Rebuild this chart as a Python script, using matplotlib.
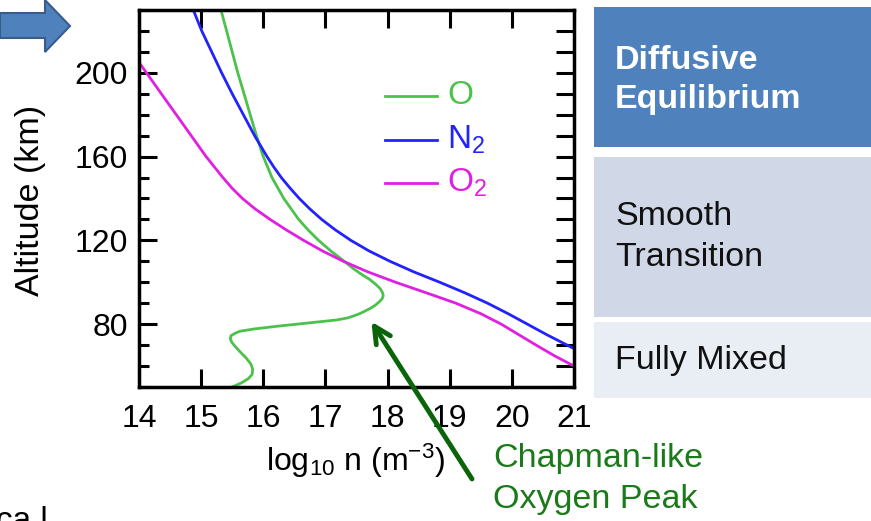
import matplotlib
matplotlib.use("Agg")
import matplotlib.pyplot as plt
from matplotlib.patches import Rectangle, Polygon
from matplotlib.ticker import MultipleLocator

plt.rcParams['font.family'] = ['Liberation Sans', 'DejaVu Sans']
plt.rcParams['mathtext.fontset'] = 'custom'
plt.rcParams['mathtext.rm'] = 'Liberation Sans'
plt.rcParams['mathtext.it'] = 'Liberation Sans:italic'
plt.rcParams['mathtext.bf'] = 'Liberation Sans:bold'

# ---- data (altitude in km, log10 number density in m^-3) ----
o_alt = [50, 52, 54, 56, 58.5, 61, 64, 67, 70, 71.5, 73, 74.5, 75.7, 76.6, 77.7, 79, 80.5,
         82, 83, 84, 85, 86, 87.5, 89, 90.5, 92, 93.5, 95, 97, 99, 101.4, 104, 106.5, 109.4,
         115, 120, 125, 130, 140, 150, 160, 170, 180, 190, 200, 210, 220, 231]
o_val = [15.5, 15.65, 15.76, 15.82, 15.83, 15.8, 15.72, 15.62, 15.53, 15.49, 15.47, 15.48,
         15.55, 15.62, 15.85, 16.22, 16.7, 17.18, 17.36, 17.46, 17.55, 17.62, 17.72, 17.8,
         17.86, 17.91, 17.93, 17.92, 17.88, 17.81, 17.71, 17.57, 17.45, 17.33, 17.085, 16.89,
         16.72, 16.57, 16.33, 16.14, 16.0, 15.89, 15.79, 15.69, 15.59, 15.50, 15.41, 15.31]

n2_alt = [68, 70, 75, 80, 85, 90, 95, 100, 105, 110, 115, 120, 125, 130, 135, 140, 145, 150,
          155, 160, 170, 180, 190, 200, 210, 220, 231]
n2_val = [21.02, 20.89, 20.56, 20.25, 19.94, 19.61, 19.24, 18.84, 18.42, 18.04, 17.70, 17.41,
          17.16, 16.94, 16.75, 16.58, 16.43, 16.29, 16.17, 16.06, 15.86, 15.68, 15.50, 15.33,
          15.17, 15.01, 14.86]

o2_alt = [59.5, 60, 65, 70, 75, 80, 85, 90, 95, 100, 105, 110, 115, 120, 125, 130, 135, 140,
          145, 150, 160, 170, 180, 190, 200, 205]
o2_val = [21.03, 21.0, 20.68, 20.39, 20.11, 19.83, 19.50, 19.10, 18.62, 18.13, 17.68, 17.29,
          16.95, 16.65, 16.37, 16.11, 15.87, 15.665, 15.495, 15.35, 15.08, 14.84, 14.60,
          14.36, 14.12, 14.0]

species = ['O', 'N$_2$', 'O$_2$']
colors = ['#4cc24c', '#2222ff', '#e020e0']

x_ticks = [14, 15, 16, 17, 18, 19, 20, 21]
y_ticks = [80, 120, 160, 200]

boxes = ['Diffusive\nEquilibrium', 'Smooth\nTransition', 'Fully Mixed']

W, H = 871, 521
fig = plt.figure(figsize=(W / 100, H / 100), dpi=100)

def fx(px):
    return px / W

def fy(py):
    return 1 - py / H

ax = fig.add_axes([fx(139), fy(387), fx(574) - fx(139), fy(10) - fy(387)])
ax.plot(o_val, o_alt, color=colors[0], lw=2)
ax.plot(n2_val, n2_alt, color=colors[1], lw=2)
ax.plot(o2_val, o2_alt, color=colors[2], lw=2)
ax.set_xlim(14, 21)
ax.set_ylim(50, 230)
ax.set_xticks(x_ticks)
ax.set_yticks(y_ticks)
ax.yaxis.set_minor_locator(MultipleLocator(10))
for s in ax.spines.values():
    s.set_linewidth(2.5)
ax.tick_params(axis='both', which='major', direction='in', length=13, width=2.2,
               labelsize=23, top=True, right=True, pad=8)
ax.tick_params(axis='x', which='major', pad=12)
ax.tick_params(axis='y', which='minor', direction='in', length=7.5, width=2.2, right=True)
for t in ax.yaxis.get_minor_ticks():
    t.tick2line.set_markersize(13)
for t in ax.yaxis.get_major_ticks():
    t.tick2line.set_markersize(13)

fig.text(fx(31), fy(200), 'Altitude (km)', rotation=90, ha='center', va='center', fontsize=24.5)
fig.text(fx(356), fy(461), 'log$_{10}$ n (m$^{-3}$)', ha='center', va='center', fontsize=23)

# legend
leg_y = [96, 140, 183]
for name, c, py in zip(species, colors, leg_y):
    ax.plot([fx(385), fx(437)], [fy(py), fy(py)], transform=fig.transFigure, color=c, lw=2,
            clip_on=False)
    fig.text(fx(447), fy(py), name, color=c, fontsize=24, ha='left', va='center')

# annotation arrow
ax.annotate('', xy=(17.74, 81.2), xycoords='data',
            xytext=(fx(472), fy(479)), textcoords='figure fraction',
            arrowprops=dict(arrowstyle='->', color='#0a650a', lw=3.5,
                            mutation_scale=30, shrinkA=0, shrinkB=0),
            annotation_clip=False)
fig.text(fx(493), fy(479), 'Chapman-like\nOxygen Peak', color='#1a7a1a', fontsize=24.5,
         ha='left', va='center', linespacing=1.4)

# right panel
box_px = [(7, 147), (157, 317), (322, 398)]
box_col = ['#4f81bd', '#d0d8e8', '#e9edf4']
txt_col = ['white', '#111111', '#111111']
txt_wt = ['bold', 'normal', 'normal']
txt_cy = [80, 237, 360]
txt_ls = [1.33, 1.4, 1.2]
for (top, bot), bc, label, tc, wt, cy, ls in zip(box_px, box_col, boxes, txt_col, txt_wt,
                                                  txt_cy, txt_ls):
    fig.patches.append(Rectangle((fx(594), fy(bot)), fx(W + 5) - fx(594), fy(top) - fy(bot),
                                 transform=fig.transFigure, facecolor=bc, edgecolor='none'))
    fig.text(fx(615), fy(cy), label, color=tc, fontsize=24.5,
             fontweight=wt, ha='left', va='center', linespacing=ls)

# blue arrow at top-left
arrow_pts = [(0, 13), (45, 13), (45, 0), (70, 26), (45, 52), (45, 38), (0, 38)]
fig.patches.append(Polygon([(fx(x), fy(y)) for x, y in arrow_pts], closed=True,
                           transform=fig.transFigure, facecolor='#4f81bd',
                           edgecolor='#385d8a', lw=1.5))

# cut-off text at bottom-left
fig.text(fx(-4), fy(506), 'ca l', fontsize=24, ha='left', va='top', color='black')

fig.savefig('out.png', dpi=100)
